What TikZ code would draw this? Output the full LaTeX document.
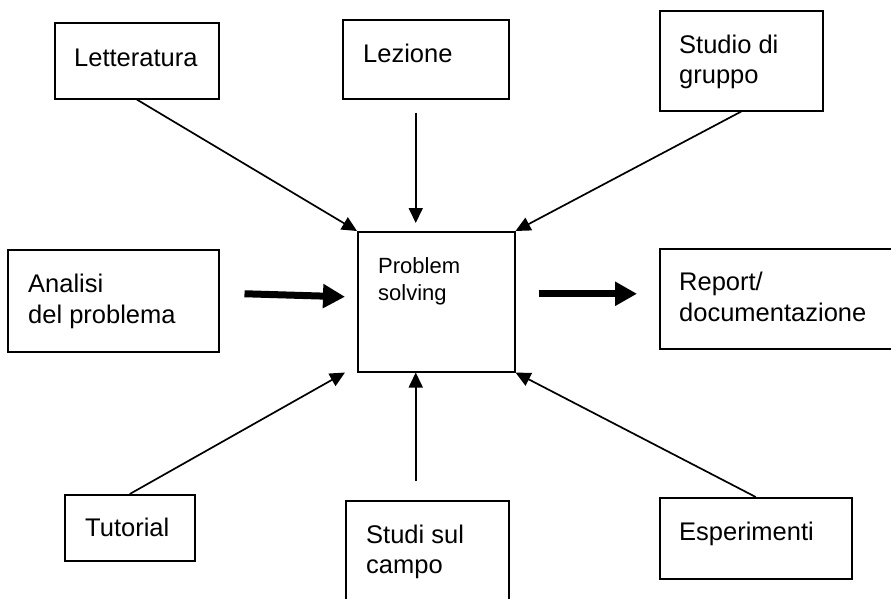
\documentclass[tikz,border=0pt]{standalone}
\usepackage{fontspec}
\setmainfont{Liberation Sans}
\usetikzlibrary{arrows.meta}
\begin{document}
\begin{tikzpicture}[x=1pt,y=-1pt,
  box/.style={draw, line width=1.5pt, inner sep=0pt, anchor=north west},
  lbl/.style={anchor=base west, inner sep=0pt, font=\fontsize{25.5}{30}\selectfont},
  slbl/.style={anchor=base west, inner sep=0pt, font=\fontsize{22}{27}\selectfont},
  thinarr/.style={line width=1.7pt, -{Triangle[length=15pt,width=14pt]}},
  thickarr/.style={line width=7pt, -{Triangle[length=22pt,width=23pt]}}]
\useasboundingbox (0,0) rectangle (891,598);
\clip (0,0) rectangle (891,598);
% boxes
\node[box, minimum width=164pt, minimum height=76pt] (lit) at (54,22) {};
\node[box, minimum width=166pt, minimum height=79pt] (lez) at (342,19) {};
\node[box, minimum width=163pt, minimum height=100pt] (stu) at (659,10) {};
\node[box, minimum width=211pt, minimum height=102pt] (ana) at (7,249) {};
\node[box, minimum width=157pt, minimum height=140pt] (ps) at (357,231) {};
\node[box, minimum width=250pt, minimum height=100pt] (rep) at (659,248) {};
\node[box, minimum width=130pt, minimum height=66pt] (tut) at (64,494) {};
\node[box, minimum width=163pt, minimum height=110pt] (stc) at (345,500) {};
\node[box, minimum width=192pt, minimum height=81pt] (esp) at (659,497) {};
% texts
\node[lbl] (tlit) at (74,66) {Letteratura};
\node[lbl] (tlez) at (363,62) {Lezione};
\node[lbl] (tstu1) at (679,53) {Studio di};
\node[lbl] (tstu2) at (679,83) {gruppo};
\node[lbl] (tana1) at (28,292) {Analisi};
\node[lbl] (tana2) at (28,323) {del problema};
\node[slbl] (tps1) at (378,273) {Problem};
\node[slbl] (tps2) at (378,300) {solving};
\node[lbl] (trep1) at (679,290) {Report/};
\node[lbl] (trep2) at (679,321) {documentazione};
\node[lbl] (ttut) at (85,536) {Tutorial};
\node[lbl] (tstc1) at (366,543) {Studi sul};
\node[lbl] (tstc2) at (366,573) {campo};
\node[lbl] (tesp) at (679,540) {Esperimenti};
% connectors
\draw[thinarr] (lit.south) -- (ps.north west);
\draw[thinarr] ([xshift=-10pt,yshift=-13pt]lez.south) -- ([xshift=-20.5pt,yshift=8pt]ps.north);
\draw[thinarr] (stu.south) -- (ps.north east);
\draw[thinarr] (tut.north) -- ([xshift=-12pt]ps.south west);
\draw[thinarr] ([xshift=-11.5pt,yshift=19pt]stc.north) -- ([xshift=-20.5pt]ps.south);
\draw[thinarr] (esp.north) -- (ps.south east);
\draw[thickarr] ([xshift=25pt,yshift=7pt]ana.east) -- ([xshift=-12pt,yshift=5pt]ps.west);
\draw[thickarr] ([xshift=23pt,yshift=8pt]ps.east) -- ([xshift=-22pt,yshift=5pt]rep.west);
\end{tikzpicture}
\end{document}
